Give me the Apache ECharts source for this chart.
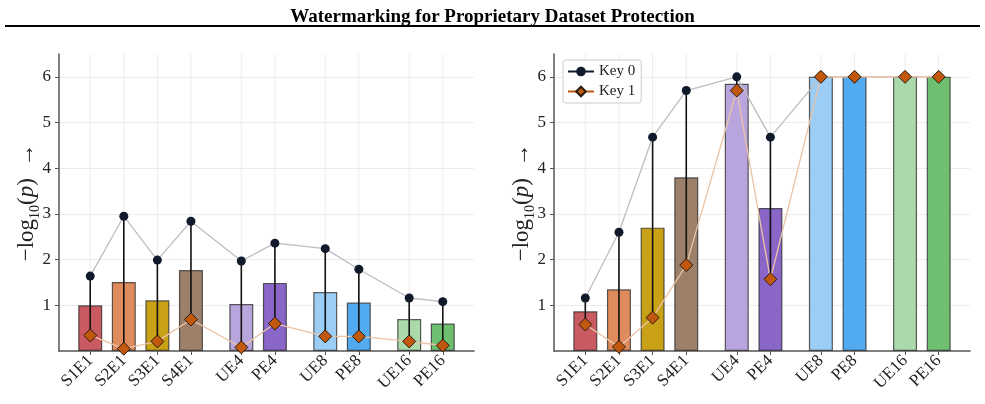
<!DOCTYPE html>
<html>
<head>
<meta charset="utf-8">
<script src="https://cdn.jsdelivr.net/npm/echarts@6/dist/echarts.min.js"></script>
<style>
  html, body { margin: 0; padding: 0; background: #fff; }
  #main { width: 985px; height: 404px; }
</style>
</head>
<body>
<div id="main"></div>
<script>
// categories and their x positions (groups separated by a gap)
var categories = ['S1E1', 'S2E1', 'S3E1', 'S4E1', 'UE4', 'PE4', 'UE8', 'PE8', 'UE16', 'PE16'];
var positions = [0, 1, 2, 3, 4.5, 5.5, 7, 8, 9.5, 10.5];
var barColors = ['#c95a62', '#e08b5b', '#c8a116', '#9c8069', '#b9a5dd', '#8a66c8', '#9bcdf5', '#52abf1', '#acd9ac', '#6ebf70'];
var yTicks = [1, 2, 3, 4, 5, 6];

// left panel
var leftBar = [1.00, 1.51, 1.11, 1.77, 1.03, 1.49, 1.29, 1.06, 0.70, 0.60];
var leftKey0 = [1.64, 2.95, 1.99, 2.84, 1.97, 2.36, 2.24, 1.79, 1.16, 1.08];
var leftKey1 = [0.34, 0.05, 0.21, 0.69, 0.08, 0.60, 0.32, 0.32, 0.21, 0.12];

// right panel
var rightBar = [0.87, 1.35, 2.70, 3.80, 5.85, 3.13, 6.00, 6.00, 6.00, 6.00];
var rightKey0 = [1.16, 2.60, 4.68, 5.70, 6.00, 4.68, 6.00, 6.00, 6.00, 6.00];
var rightKey1 = [0.58, 0.09, 0.73, 1.88, 5.70, 1.57, 6.00, 6.00, 6.00, 6.00];

var serif = 'Liberation Serif';
var chart = echarts.init(document.getElementById('main'));

function pts(vals) {
  return positions.map(function (x, i) { return [x, vals[i]]; });
}

function xAxisFor(idx) {
  return {
    type: 'value', gridIndex: idx, min: -0.93, max: 11.43,
    axisLine: { show: true, onZero: false, lineStyle: { color: '#555', width: 1.5 } },
    axisTick: { show: true, customValues: positions, length: 4, lineStyle: { color: '#555' } },
    axisLabel: {
      customValues: positions, rotate: 45, margin: 7,
      fontFamily: serif, fontSize: 17, color: '#222',
      formatter: function (v) { return categories[positions.indexOf(v)]; }
    },
    splitLine: { show: false }
  };
}

function yAxisFor(idx) {
  return {
    type: 'value', gridIndex: idx, min: 0, max: 6.5, interval: 1,
    name: '{a|−log}{s|10}{a|(}{i|p}{a|)  →}',
    nameLocation: 'middle', nameGap: 21, nameMoveOverlap: false,
    nameTextStyle: {
      rich: {
        a: { fontFamily: serif, fontSize: 23, color: '#222', lineHeight: 26, verticalAlign: 'bottom' },
        i: { fontFamily: serif, fontStyle: 'italic', fontSize: 23, color: '#222', lineHeight: 26, verticalAlign: 'bottom' },
        s: { fontFamily: serif, fontSize: 14, color: '#222', lineHeight: 16, verticalAlign: 'bottom', padding: [0, 0, -4, 0] }
      }
    },
    axisLine: { show: true, onZero: false, lineStyle: { color: '#555', width: 1.5 } },
    axisTick: { show: true, customValues: yTicks, length: 4, lineStyle: { color: '#555' } },
    axisLabel: {
      customValues: yTicks,
      fontFamily: serif, fontSize: 17, color: '#222', margin: 8
    },
    splitLine: { show: true, lineStyle: { color: '#ececec', width: 1 } }
  };
}

function panelSeries(idx, bars, key0, key1) {
  return [
    {
      type: 'custom', xAxisIndex: idx, yAxisIndex: idx, silent: true, z: 0,
      data: positions.map(function (x) { return [x]; }),
      renderItem: function (params, api) {
        var a = api.coord([api.value(0), 0]);
        var b = api.coord([api.value(0), 6.5]);
        return { type: 'line', shape: { x1: a[0], y1: a[1], x2: b[0], y2: b[1] }, style: { stroke: '#ececec', lineWidth: 1 } };
      }
    },
    {
      type: 'bar', xAxisIndex: idx, yAxisIndex: idx, barWidth: 24, z: 2,
      data: positions.map(function (x, i) {
        return { value: [x, bars[i]], itemStyle: { color: barColors[i] } };
      }),
      itemStyle: { borderColor: 'rgba(40,40,40,0.75)', borderWidth: 1.2 }
    },
    {
      type: 'custom', xAxisIndex: idx, yAxisIndex: idx, silent: true, z: 3,
      data: positions.map(function (x, i) { return [x, key1[i], key0[i]]; }),
      renderItem: function (params, api) {
        var a = api.coord([api.value(0), api.value(1)]);
        var b = api.coord([api.value(0), api.value(2)]);
        return { type: 'line', shape: { x1: a[0], y1: a[1], x2: b[0], y2: b[1] }, style: { stroke: '#111', lineWidth: 1.6 } };
      }
    },
    {
      name: 'Key 0', type: 'line', xAxisIndex: idx, yAxisIndex: idx, z: 4,
      data: pts(key0), symbol: 'circle', symbolSize: 9,
      itemStyle: { color: '#111a2b' },
      lineStyle: { color: '#bdbdc2', width: 1.3 }
    },
    {
      name: 'Key 1', type: 'line', xAxisIndex: idx, yAxisIndex: idx, z: 5,
      data: pts(key1), symbol: 'diamond', symbolSize: 13,
      itemStyle: { color: '#c0580e', borderColor: '#2a1a10', borderWidth: 1 },
      lineStyle: { color: '#ebc3a6', width: 1.3 }
    }
  ];
}

chart.setOption({
  animation: false,
  title: {
    text: 'Watermarking for Proprietary Dataset Protection',
    left: 'center', top: 3,
    textStyle: { fontFamily: serif, fontWeight: 'bold', fontSize: 19, color: '#000' }
  },
  graphic: [{
    type: 'line', shape: { x1: 5, y1: 26, x2: 980, y2: 26 },
    style: { stroke: '#000', lineWidth: 2 }
  }],
  legend: {
    data: [
      { name: 'Key 0', itemStyle: { color: '#111a2b' }, lineStyle: { color: '#111a2b' } },
      { name: 'Key 1', itemStyle: { color: '#c0580e', borderColor: '#2a1a10' }, lineStyle: { color: '#c0580e' } }
    ],
    orient: 'vertical', left: 563, top: 60,
    itemWidth: 26, itemHeight: 12, itemGap: 5,
    padding: [4, 6, 4, 4],
    backgroundColor: '#fff', borderColor: '#ccc', borderWidth: 1, borderRadius: 3,
    textStyle: { fontFamily: serif, fontSize: 15, color: '#222' }
  },
  grid: [
    { left: 59, right: 511, top: 54, bottom: 53 },
    { left: 554, right: 15, top: 54, bottom: 53 }
  ],
  xAxis: [xAxisFor(0), xAxisFor(1)],
  yAxis: [yAxisFor(0), yAxisFor(1)],
  series: panelSeries(0, leftBar, leftKey0, leftKey1).concat(panelSeries(1, rightBar, rightKey0, rightKey1))
});
</script>
</body>
</html>
